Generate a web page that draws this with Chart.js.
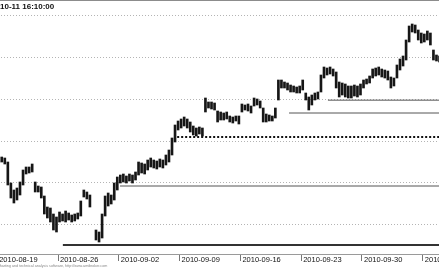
<!DOCTYPE html>
<html><head><meta charset="utf-8">
<script src="https://cdn.jsdelivr.net/npm/chart.js@4"></script>
<style>
html,body{margin:0;padding:0;background:#fff;overflow:hidden}
#wrap{position:relative;width:439px;height:268px;overflow:hidden;background:#fff}
#c{position:absolute;left:-20px;top:0}
</style></head><body>
<div id="wrap"><canvas id="c" width="500" height="268"></canvas></div>
<script>
const titleText = '10-11 16:10:00';
const footerText = 'Charting and technical analysis software, http://www.amibroker.com';
const tickDays = [0, 5, 10, 15, 20, 25, 30, 35];
const tickLabels = ['2010-08-19','2010-08-26','2010-09-02','2010-09-09','2010-09-16','2010-09-23','2010-09-30','2010-10-07'];
const barsPerDay = 4;
const highs = [
 1090.4,1090.4,1089.8,1087.4,
 1074.8,1070.6,1071.8,1075.4,
 1082.6,1084.4,1084.4,1086.2,
 1075.4,1073.0,1072.4,1067.0,
 1060.4,1059.8,1056.2,1054.4,
 1057.4,1056.2,1058.0,1056.8,
 1055.6,1056.2,1056.8,1064.0,
 1070.6,1069.4,1067.6,null,
 1046.6,1045.4,1056.2,1067.0,
 1068.8,1067.6,1074.8,1078.4,
 1079.6,1080.2,1079.0,1080.2,
 1079.6,1081.4,1087.4,1086.8,
 1086.2,1088.6,1089.8,1088.6,
 1088.0,1089.2,1088.6,1091.6,
 1094.6,1101.8,1109.6,1112.0,
 1113.2,1114.4,1113.2,1111.4,
 1109.0,1107.8,1108.4,1107.8,
 1125.8,1123.4,1123.4,1122.8,
 1118.0,1117.4,1116.8,1117.4,
 1115.0,1114.4,1115.0,1115.0,
 1122.2,1121.6,1122.2,1121.0,
 1125.8,1125.2,1124.0,1119.8,
 1116.2,1115.6,1115.0,1119.8,
 1136.6,1136.6,1135.4,1134.8,
 1133.6,1133.0,1132.4,1133.0,
 1136.6,1128.8,1126.4,1127.6,
 1128.8,1129.4,1139.6,1144.4,
 1143.8,1144.4,1143.2,1141.4,
 1135.4,1134.8,1134.2,1133.0,
 1133.0,1133.6,1133.0,1134.2,
 1136.6,1137.2,1139.0,1143.2,
 1143.8,1144.4,1143.2,1142.6,
 1142.0,1138.4,1137.8,1145.6,
 1149.2,1151.0,1160.6,1169.0,
 1170.2,1169.6,1166.6,1164.8,
 1164.2,1166.0,1164.8,1154.6,
 1151.6,1151.0
];
const lows = [
 1086.8,1087.4,1086.2,1073.6,
 1065.8,1062.8,1064.6,1067.6,
 1073.6,1080.2,1080.8,1081.4,
 1069.4,1069.4,1065.8,1056.2,
 1053.8,1051.4,1046.6,1045.4,
 1051.4,1052.0,1051.4,1052.6,
 1051.4,1052.0,1053.2,1055.0,
 1066.4,1065.2,1060.4,null,
 1040.6,1039.4,1041.8,1055.0,
 1061.0,1062.2,1064.6,1070.6,
 1074.8,1075.4,1074.8,1076.0,
 1074.8,1076.6,1079.6,1080.8,
 1080.2,1082.6,1084.4,1083.8,
 1083.2,1084.4,1083.8,1085.6,
 1087.4,1091.6,1099.4,1106.6,
 1107.8,1109.0,1107.8,1105.4,
 1103.6,1103.0,1104.2,1103.0,
 1117.4,1119.8,1119.2,1118.6,
 1111.4,1112.6,1112.6,1113.2,
 1111.4,1110.8,1112.0,1110.2,
 1117.4,1118.6,1118.0,1116.8,
 1121.0,1121.6,1119.8,1111.4,
 1111.4,1112.0,1112.0,1113.8,
 1124.6,1131.8,1131.8,1130.6,
 1129.4,1129.4,1128.8,1128.8,
 1130.6,1124.6,1118.6,1121.6,
 1124.6,1125.2,1129.4,1137.8,
 1139.6,1140.2,1139.0,1131.8,
 1126.4,1127.6,1126.4,1125.8,
 1125.8,1127.0,1126.4,1127.6,
 1131.8,1134.2,1134.8,1137.8,
 1139.0,1139.6,1138.4,1137.8,
 1136.6,1131.8,1133.0,1137.8,
 1142.6,1145.0,1148.6,1159.4,
 1165.4,1164.8,1160.6,1158.8,
 1159.4,1160.6,1157.6,1148.6,
 1148.0,1147.4
];
const levelPrices = [1124.5, 1116.8, 1102.4, 1073.0, 1037.6];
const levelStartDays = [27.2, 24.0, 14.8, 10.1, 5.4];
const gridPrices = [1050, 1075, 1100, 1125, 1150, 1175];

const levelStyles = [
  {color:'#555', width:1, dash:[]},
  {color:'#555', width:1, dash:[]},
  {color:'#111', width:2, dash:[2,2]},
  {color:'#555', width:1, dash:[]},
  {color:'#333', width:2, dash:[]}
];
const X_MIN = -1.4145, X_MAX = 39.704;
const OFF = 20;

const barData = highs.map((h, i) => ({
  x: Math.floor(i / barsPerDay) + ((i % barsPerDay) + 0.5) / barsPerDay,
  y: (h === null || lows[i] === null) ? null : [lows[i], h]
}));

const datasets = [{
  type: 'bar', data: barData, backgroundColor: '#161616', borderWidth: 0,
  barThickness: 2, grouped: false, order: 2
}];
levelPrices.forEach((p, i) => {
  datasets.push({
    type: 'line',
    data: [{x: levelStartDays[i], y: p}, {x: X_MAX, y: p}],
    borderColor: levelStyles[i].color, borderWidth: levelStyles[i].width,
    borderDash: levelStyles[i].dash, pointRadius: 0, fill: false, order: 1
  });
});

const decor = {
  id: 'decor',
  afterDraw(chart) {
    const ctx = chart.ctx;
    ctx.save();
    ctx.fillStyle = '#8c8c8c';
    ctx.fillRect(0, 0, chart.width, 1);
    ctx.fillStyle = '#111';
    ctx.font = 'bold 8px "Liberation Sans", Arial, sans-serif';
    ctx.textBaseline = 'alphabetic';
    ctx.textAlign = 'left';
    ctx.fillText(titleText, OFF + 0, 8.5);
    ctx.fillStyle = '#888';
    ctx.font = '3.7px "Liberation Sans", Arial, sans-serif';
    ctx.fillText(footerText, OFF - 3, 266.5);
    ctx.restore();
  }
};

new Chart(document.getElementById('c'), {
  data: { datasets },
  options: {
    responsive: false, animation: false, devicePixelRatio: 1,
    layout: { padding: { top: 1, left: 0, right: 0, bottom: 0 } },
    plugins: { legend: { display: false }, tooltip: { enabled: false }, title: { display: false } },
    scales: {
      x: {
        type: 'linear', min: X_MIN, max: X_MAX, offset: false,
        afterBuildTicks: s => { s.ticks = tickDays.map(v => ({ value: v })); },
        afterFit: s => { s.height = 14; },
        grid: { display: true, offset: false, drawOnChartArea: false, drawTicks: true, tickLength: 7, color: '#777', lineWidth: 1 },
        border: { display: true, color: '#9a9a9a', width: 1 },
        ticks: {
          autoSkip: false, maxRotation: 0, minRotation: 0, align: 'start', labelOffset: 2, padding: -6,
          color: '#111', font: { family: '"Liberation Sans", Arial, sans-serif', size: 7.5 },
          callback: v => { const k = tickDays.indexOf(v); return k >= 0 ? tickLabels[k] : ''; }
        }
      },
      y: {
        type: 'linear', min: 1032.2, max: 1184.0, position: 'left',
        afterBuildTicks: s => { s.ticks = gridPrices.map(v => ({ value: v })); },
        afterFit: s => { s.width = 0; },
        grid: { display: true, offset: false, drawOnChartArea: true, drawTicks: false, color: '#b4b4b4', lineWidth: 1, borderDash: [1, 2] },
        border: { display: false, dash: [1, 2] },
        ticks: { display: false }
      }
    }
  },
  plugins: [decor]
});
</script>
</body></html>
